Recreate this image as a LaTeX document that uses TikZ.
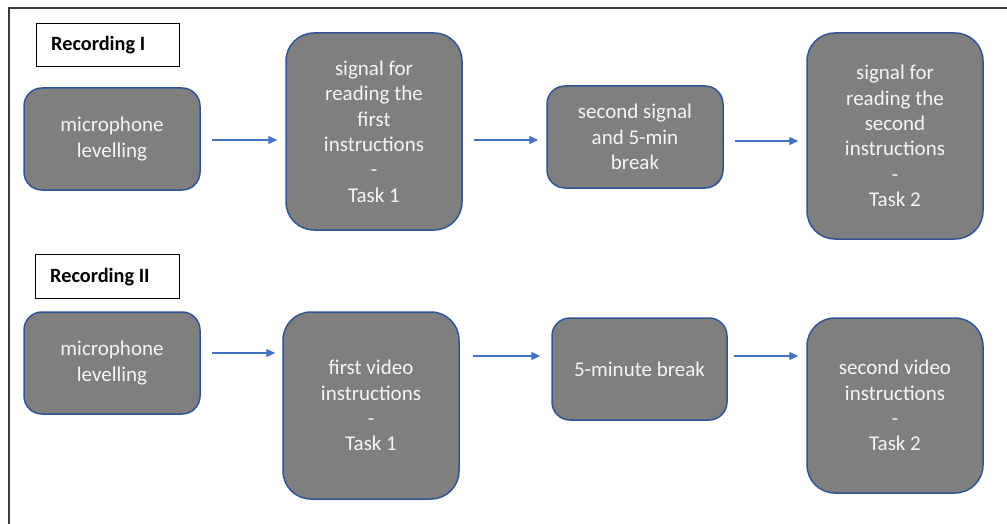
\documentclass[tikz,border=0pt]{standalone}
\usepackage{fontspec}
\setmainfont{Carlito}
\usetikzlibrary{arrows.meta}
\definecolor{boxfill}{HTML}{7F7F7F}
\definecolor{boxline}{HTML}{2F5597}
\definecolor{arrline}{HTML}{4472C4}
\definecolor{frameline}{HTML}{3A3A3A}
\definecolor{boxtext}{HTML}{F5F5F5}
\tikzset{
  stepbox/.style={draw=boxline, fill=boxfill, line width=1.5pt, text=boxtext,
    align=center, inner sep=0pt, font=\fontsize{21}{25.4}\selectfont},
  labelbox/.style={draw=black, line width=1.4pt, inner sep=0pt, anchor=north west},
  labeltext/.style={anchor=west, font=\bfseries\fontsize{20.3}{24}\selectfont, inner sep=0pt, text=black},
  arr/.style={draw=arrline, line width=1.3pt, -{Triangle[length=9pt,width=8pt]},
    shorten <=11pt, shorten >=8pt},
}
\begin{document}
\begin{tikzpicture}[x=1pt,y=-1pt]
\useasboundingbox (0,0) rectangle (1007,524);
% outer frame (top and left edges visible)
\draw[frameline, line width=1.6pt] (9,524) -- (9,8) -- (1007,8);

% labels
\node[labelbox, minimum width=143pt, minimum height=43pt] (lab1) at (36,23) {};
\node[labeltext] (lab1t) at (51,45.5) {Recording I};
\node[labelbox, minimum width=144pt, minimum height=44pt] (lab2) at (35,254) {};
\node[labeltext] (lab2t) at (50,277) {Recording II};

% row 1
\node[stepbox, rounded corners=18pt, minimum width=176pt, minimum height=102pt] (a1) at (112,139) {microphone\\levelling};
\node[stepbox, rounded corners=28pt, minimum width=176pt, minimum height=197pt] (b1) at (374,131.5) {signal for\\reading the\\first\\instructions\\-\\Task 1};
\node[stepbox, rounded corners=18pt, minimum width=176pt, minimum height=102pt] (c1) at (635,137) {second signal\\and 5-min\\break};
\node[stepbox, rounded corners=28pt, minimum width=176pt, minimum height=206pt] (d1) at (895,136) {signal for\\reading the\\second\\instructions\\-\\Task 2};

% row 2
\node[stepbox, rounded corners=18pt, minimum width=176pt, minimum height=102pt] (a2) at (112,363) {microphone\\levelling};
\node[stepbox, rounded corners=28pt, minimum width=176pt, minimum height=187pt] (b2) at (371,405.5) {first video\\instructions\\-\\Task 1};
\node[stepbox, rounded corners=18pt, minimum width=175pt, minimum height=102pt] (c2) at (639.5,369) {5-minute break};
\node[stepbox, rounded corners=28pt, minimum width=176pt, minimum height=175pt] (d2) at (895,405.5) {second video\\instructions\\-\\Task 2};

% arrows row 1
\draw[arr] (a1.east |- 0,140) -- (b1.west |- 0,140);
\draw[arr] (b1.east |- 0,140) -- (c1.west |- 0,140);
\draw[arr] (c1.east |- 0,141) -- (d1.west |- 0,141);
% arrows row 2
\draw[arr, shorten >=7pt] (a2.east |- 0,353) -- (b2.west |- 0,353);
\draw[arr, shorten <=13pt, shorten >=11pt] (b2.east |- 0,356) -- (c2.west |- 0,356);
\draw[arr, shorten <=6pt] (c2.east |- 0,356) -- (d2.west |- 0,356);
\end{tikzpicture}
\end{document}
